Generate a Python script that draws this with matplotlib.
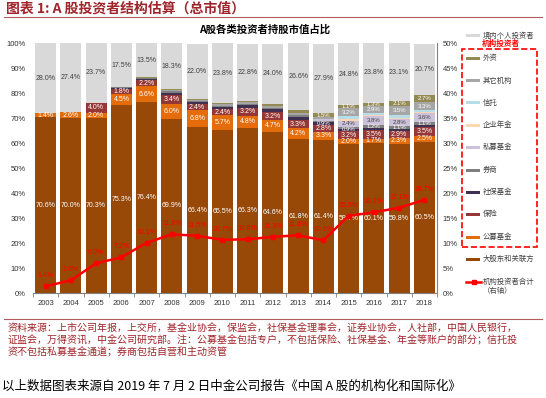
import numpy as np
import matplotlib
matplotlib.use('Agg')
import matplotlib.pyplot as plt
from matplotlib.lines import Line2D
from matplotlib.patches import Rectangle

# 数据（读自原图，单位 %）
years = ['2003', '2004', '2005', '2006', '2007', '2008', '2009', '2010',
         '2011', '2012', '2013', '2014', '2015', '2016', '2017', '2018']
major = [70.6, 70.0, 70.3, 75.3, 76.4, 69.9, 66.4, 65.5, 66.3, 64.6, 61.8, 61.4, 59.7, 60.1, 59.8, 60.5]
mutual = [1.4, 2.6, 2.0, 4.5, 6.6, 6.0, 6.8, 5.7, 4.8, 4.7, 4.2, 3.3, 2.0, 1.7, 2.3, 2.5]
insurance = [0, 0, 4.0, 1.8, 2.2, 3.4, 2.4, 2.4, 3.2, 3.2, 3.3, 2.8, 3.2, 3.5, 2.9, 3.5]
ssf = [0, 0, 0, 0.6, 0.5, 1.0, 0.9, 1.0, 1.0, 1.1, 1.2, 0.9, 0.9, 0.8, 0.8, 0.8]
broker = [0, 0, 0, 0.3, 0.3, 0.5, 0.4, 0.5, 0.6, 0.7, 0.8, 0.6, 0.8, 1.2, 1.1, 1.1]
private = [0, 0, 0, 0, 0, 0, 0, 0, 0, 0, 0, 0.7, 2.4, 3.8, 2.8, 3.6]
annuity = [0, 0, 0, 0, 0, 0, 0, 0, 0, 0, 0, 0, 0.6, 0.3, 0.6, 0.5]
trust = [0, 0, 0, 0, 0, 0, 0, 0, 0, 0, 0, 0.2, 1.3, 0.7, 1.0, 0.7]
other = [0, 0, 0, 0, 0.2, 0.4, 0.5, 0.5, 0.6, 0.8, 0.9, 0.6, 3.2, 2.9, 3.5, 3.3]
foreign = [0, 0, 0, 0, 0.3, 0.5, 0.5, 0.6, 0.6, 0.8, 1.2, 1.5, 1.1, 1.3, 2.1, 2.7]
individual = [28.0, 27.4, 23.7, 17.5, 13.5, 18.3, 22.0, 23.8, 22.8, 24.0, 26.6, 27.9, 24.8, 23.8, 23.1, 20.7]
inst_total = [1.4, 2.6, 6.0, 7.2, 10.1, 11.8, 11.5, 10.7, 10.8, 11.3, 11.6, 10.6, 15.5, 16.2, 17.1, 18.7]

series = [
    ('大股东和关联方', major, '#984807', 'white', 'all'),
    ('公募基金', mutual, '#E46C0A', 'white', 'all'),
    ('保险', insurance, '#953735', 'white', 'all'),
    ('社保基金', ssf, '#403152', 'white', 'late'),
    ('券商', broker, '#7F7F7F', 'white', 'late'),
    ('私募基金', private, '#CCC1DA', '#404040', 'late'),
    ('企业年金', annuity, '#FCD5B5', '#404040', 'none'),
    ('信托', trust, '#B7DEE8', '#404040', 'none'),
    ('其它机构', other, '#A6A6A6', 'white', 'late'),
    ('外资', foreign, '#948A54', 'white', 'late'),
    ('境内个人投资者', individual, '#D9D9D9', '#404040', 'all'),
]

plt.rcParams['font.family'] = ['Liberation Sans', 'Noto Sans CJK SC']
cjk = ['Noto Sans CJK SC', 'DejaVu Sans']
W, H = 546, 398


def fx(x):
    return x / W


def fy(y):
    return 1 - y / H


fig = plt.figure(figsize=(W / 100, H / 100), dpi=100)
ax = fig.add_axes([fx(33), fy(293.3), (437 - 33) / W, (293.3 - 43.3) / H])

x = np.arange(len(years))
bottom = np.zeros(len(years))
for name, vals, color, tcol, rule in series:
    vals = np.array(vals)
    ax.bar(x, vals, 0.83, bottom=bottom, color=color, linewidth=0, zorder=2)
    for i, v in enumerate(vals):
        if rule == 'all' and v > 0:
            fs = 5
        elif rule == 'late' and i >= 11 and v >= 0.9:
            fs = 4.3
        else:
            continue
        ax.text(x[i], bottom[i] + v / 2, f'{v:.1f}%', ha='center', va='center',
                fontsize=fs, color=tcol, zorder=3)
    bottom += vals

ax.set_xlim(-0.5, len(years) - 0.5)
ax.set_ylim(0, 100)
ax.set_yticks(np.arange(0, 101, 10))
ax.set_yticklabels([f'{v}%' for v in range(0, 101, 10)])
ax.set_xticks(x)
ax.set_xticklabels(years)
ax.set_xticks(np.arange(-0.5, len(years), 1), minor=True)
ax.tick_params(axis='x', which='major', length=0, labelsize=5.5, colors='#333333', pad=5)
ax.tick_params(axis='x', which='minor', length=3, color='#808080', direction='out')
ax.tick_params(axis='y', length=0, labelsize=5.5, colors='#333333', pad=5)
for s in ['top', 'left', 'right']:
    ax.spines[s].set_visible(False)
ax.spines['bottom'].set_color('#808080')
ax.spines['bottom'].set_linewidth(0.8)

ax2 = ax.twinx()
ax2.plot(x, inst_total, color='#FF0000', lw=1.8, marker='s', ms=3.5, zorder=5)
for i, v in enumerate(inst_total):
    ax2.annotate(f'{v:.1f}%', (x[i], v), xytext=(0, 5), textcoords='offset points',
                 ha='center', va='bottom', fontsize=5, color='#FF0000')
ax2.set_ylim(0, 50)
ax2.set_yticks(np.arange(0, 51, 5))
ax2.set_yticklabels([f'{v}%' for v in range(0, 51, 5)])
ax2.tick_params(axis='y', length=0, labelsize=5.5, colors='#333333', pad=4)
for s in ['top', 'left', 'bottom']:
    ax2.spines[s].set_visible(False)
ax2.spines['right'].set_color('#808080')
ax2.spines['right'].set_linewidth(0.8)

# 标题
fig.text(fx(6), fy(9), '图表 1: A 股投资者结构估算（总市值）', family=cjk, fontsize=10,
         fontweight='bold', color='#A0252B', ha='left', va='center', style='italic')
fig.add_artist(Line2D([fx(4), fx(542)], [fy(17), fy(17)], color='#B45A5E', lw=0.8))
fig.text(fx(265), fy(30), 'A股各类投资者持股市值占比', family=cjk, fontsize=7.5,
         fontweight='bold', color='black', ha='center', va='center')

# 图例
leg_items = [
    ('境内个人投资者', '#D9D9D9', 35.7),
    ('外资', '#948A54', 58.3),
    ('其它机构', '#A6A6A6', 80.7),
    ('信托', '#B7DEE8', 102.7),
    ('企业年金', '#FCD5B5', 125),
    ('私募基金', '#CCC1DA', 147.3),
    ('券商', '#7F7F7F', 170),
    ('社保基金', '#403152', 192.3),
    ('保险', '#953735', 214.3),
    ('公募基金', '#E46C0A', 237),
    ('大股东和关联方', '#984807', 259),
]
for lab, col, yy in leg_items:
    fig.add_artist(Rectangle((fx(466), fy(yy + 1.5)), 14 / W, 3 / H, color=col, lw=0))
    fig.text(fx(483), fy(yy), lab, family=cjk, fontsize=5.3, color='#404040',
             ha='left', va='center')
fig.add_artist(Line2D([fx(466), fx(481)], [fy(282), fy(282)], color='#FF0000', lw=1.8))
fig.add_artist(Line2D([fx(473.5)], [fy(282)], color='#FF0000', marker='s', ms=3, lw=0))
fig.text(fx(483), fy(282), '机构投资者合计', family=cjk, fontsize=5.3, color='#404040',
         ha='left', va='center')
fig.text(fx(483), fy(290.5), '（右轴）', family=cjk, fontsize=5.3, color='#404040',
         ha='left', va='center')
fig.text(fx(501), fy(43), '机构投资者', family=cjk, fontsize=5.5, fontweight='bold',
         color='#FF0000', ha='center', va='center')
fig.add_artist(Rectangle((fx(462), fy(247)), (537 - 462) / W, (247 - 49) / H,
                         fill=False, edgecolor='#FF0000', lw=1.2, linestyle='--'))

# 资料来源
fig.add_artist(Line2D([fx(4), fx(542)], [fy(319), fy(319)], color='#B45A5E', lw=0.8))
src = ['资料来源：上市公司年报，上交所，基金业协会，保监会，社保基金理事会，证券业协会，人社部，中国人民银行，',
       '证监会，万得资讯，中金公司研究部。注：公募基金包括专户，不包括保险、社保基金、年金等账户的部分；信托投',
       '资不包括私募基金通道；券商包括自营和主动资管']
for k, line in enumerate(src):
    fig.text(fx(8), fy(328 + 12 * k), line, family=cjk, fontsize=7.2, color='#A0252B',
             ha='left', va='center', style='italic')

fig.text(fx(2), fy(386), '以上数据图表来源自 2019 年 7 月 2 日中金公司报告《中国 A 股的机构化和国际化》',
         family=cjk, fontsize=9.0, color='black', ha='left', va='center')

fig.savefig('out.png', dpi=100)
